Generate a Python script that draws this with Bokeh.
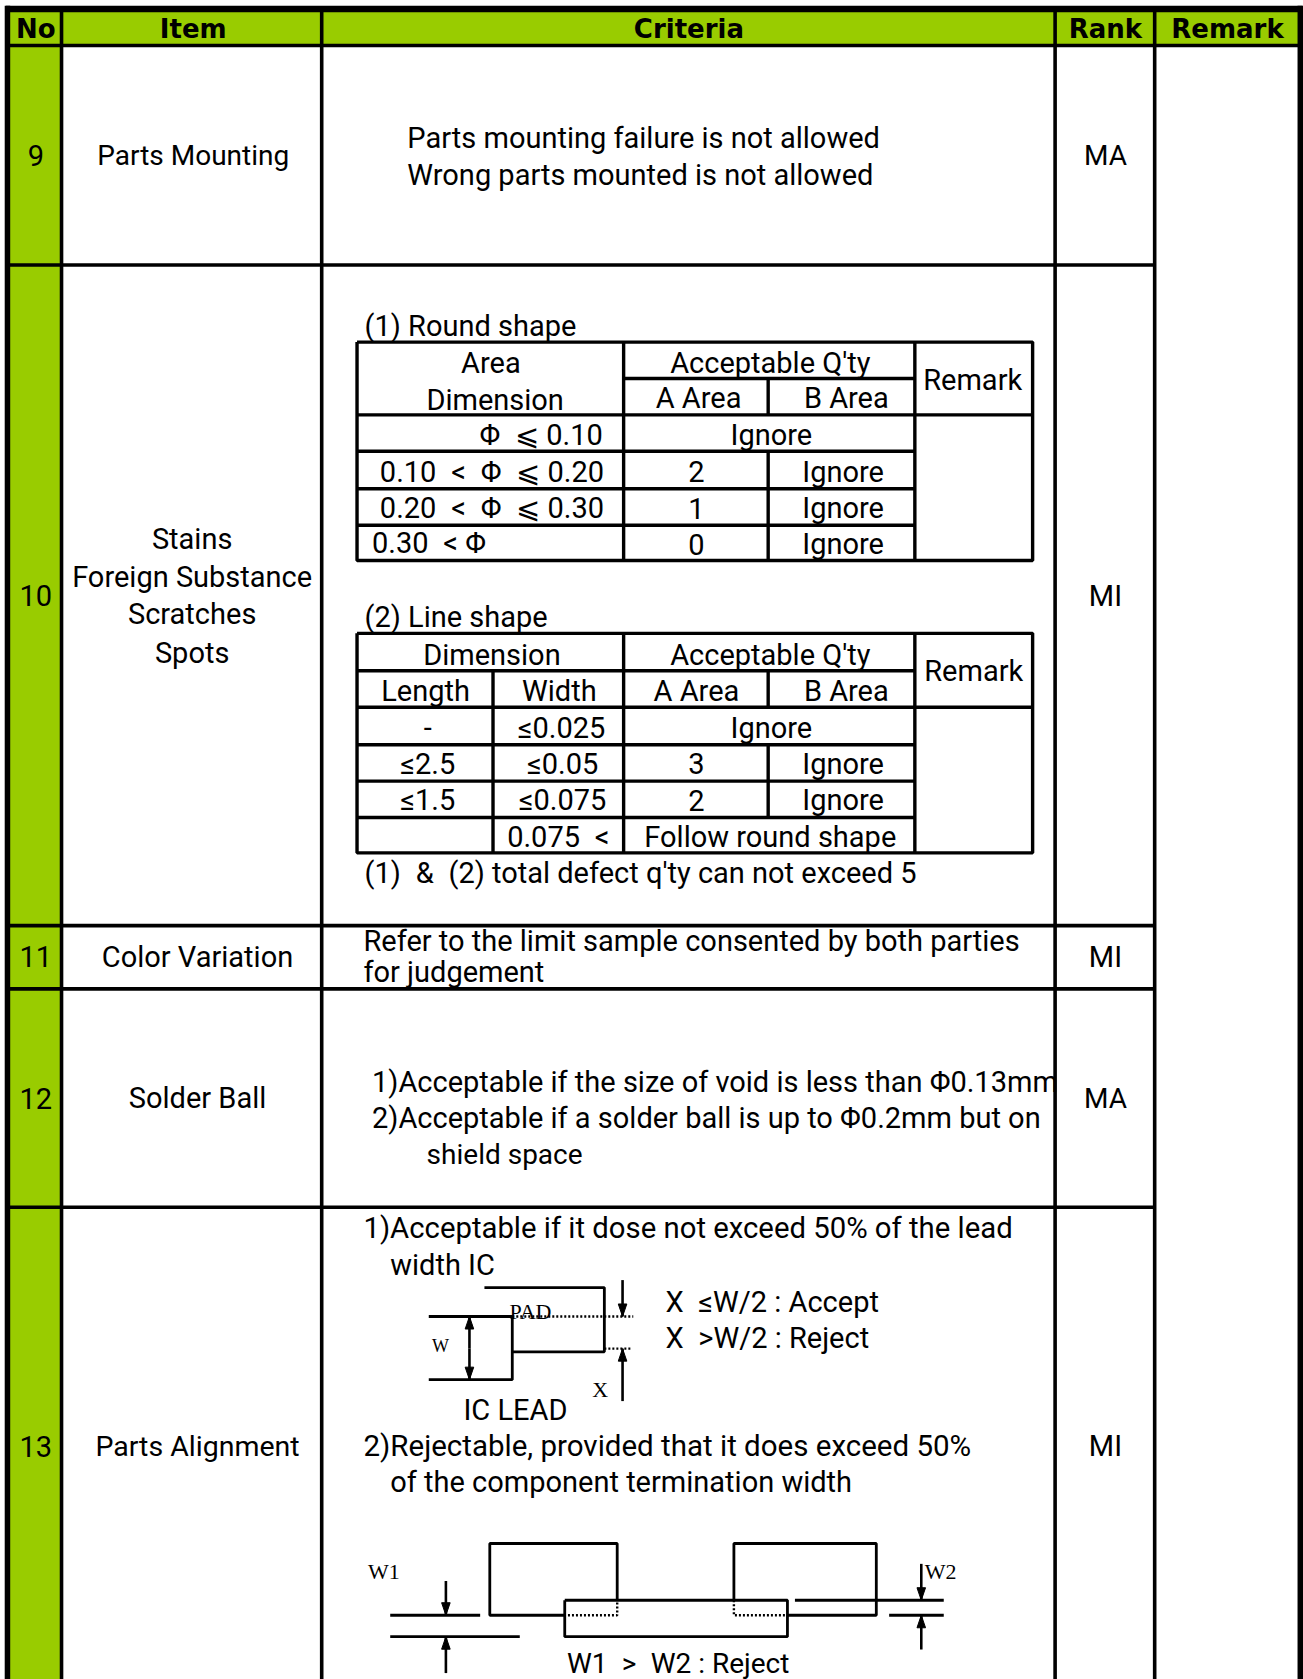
from bokeh.plotting import figure
from bokeh.embed import file_html
from bokeh.resources import INLINE
from bokeh.core.properties import value

# ---- table content ----
HEADERS = ["No", "Item", "Criteria", "Rank", "Remark"]
ROW_NO = ["9", "10", "11", "12", "13"]
ROW_RANK = ["MA", "MI", "MI", "MA", "MI"]
ROW_ITEM = [["Parts Mounting"], ["Stains", "Foreign Substance", "Scratches", "Spots"],
            ["Color Variation"], ["Solder Ball"], ["Parts Alignment"]]

CRIT_9 = ["Parts mounting failure is not allowed", "Wrong parts mounted is not allowed"]
CRIT_10_TITLE1 = "(1) Round shape"
CRIT_10_TITLE2 = "(2) Line shape"
CRIT_10_NOTE = "(1)\u2002&\u2002(2) total defect q'ty can not exceed 5"
CRIT_11 = ["Refer to the limit sample consented by both parties", "for judgement"]
CRIT_12 = ["1)Acceptable if the size of void is less than \u03a60.13mm",
           "2)Acceptable if a solder ball is up to \u03a60.2mm but on", "shield space"]
CRIT_13 = ["1)Acceptable if it dose not exceed 50% of the lead", "width IC",
           "X\u2002\u2264W/2 : Accept", "X\u2002>W/2 : Reject", "IC LEAD",
           "2)Rejectable, provided that it does exceed 50%", "of the component termination width",
           "W1\u2002>\u2002W2 : Reject"]
ROUND_DIMS = ["\u03a6\u2002\u2a7d 0.10", "0.10\u2002<\u2002\u03a6\u2002\u2a7d 0.20",
              "0.20\u2002<\u2002\u03a6\u2002\u2a7d 0.30", "0.30\u2002< \u03a6"]
ROUND_A = ["2", "1", "0"]
LINE_LEN = ["-", "\u22642.5", "\u22641.5"]
LINE_W = ["\u22640.025", "\u22640.05", "\u22640.075", "0.075\u2002<"]
LINE_A = ["3", "2"]

GREEN = "#99CC00"
FONT = "Roboto"
FS = "29px"

# layout grid (in the 1217 x 1568 design space)
COLS = [8, 57, 300, 985, 1078, 1213]
ROWS = [8, 42, 247, 864, 923, 1127]
BOTTOM = 1568
ROW_Y = [145, 556, 893, 1025, 1350]

p = figure(width=1303, height=1679, x_range=(0, 1217), y_range=(1568, 0),
           output_backend="svg", toolbar_location=None, min_border=0,
           background_fill_color="white", border_fill_color="white",
           outline_line_color=None, margin=0)
p.axis.visible = False
p.grid.visible = False


def T(x, y, s, align="center", font=FONT, size=FS, style="normal"):
    p.text([x], [y], text=[s], text_align=align, text_baseline="middle",
           text_font=value(font), text_font_size=value(size), text_font_style=style,
           text_color="#000000")


def L(xs, ys, w=3.4, dash="solid"):
    p.line(xs, ys, line_color="#000000", line_width=w, line_dash=dash)


def arrow(x, y_tail, y_tip, head=True):
    L([x, x], [y_tail, y_tip], 2.6)
    d = 9 if y_tip > y_tail else -9
    p.patch([x - 4, x + 4, x], [y_tip - d * 1.3, y_tip - d * 1.3, y_tip],
            fill_color="#000000", line_color="#000000", line_width=1)


# fills
p.quad(left=[COLS[0]], right=[COLS[5]], top=[ROWS[0]], bottom=[ROWS[1]], fill_color=GREEN, line_color=None)
p.quad(left=[COLS[0]], right=[COLS[1]], top=[ROWS[1]], bottom=[BOTTOM], fill_color=GREEN, line_color=None)

# main grid
L([5, 1216], [8, 8], 6.5)
L([6.5, 6.5], [5, BOTTOM], 5.5)
L([1214, 1214], [5, BOTTOM], 5.5)
for x in COLS[1:5]:
    L([x, x], [8, BOTTOM], 3.6)
L([COLS[0], COLS[5]], [42, 42], 3.6)
for y in ROWS[2:]:
    L([COLS[0], COLS[4]], [y, y], 3.6)

# headers
HX = [33, 180, 643, 1032, 1146]
for x, s in zip(HX, HEADERS):
    T(x, 27, s, font="DejaVu Sans", size="26px", style="bold")

# row labels
for y, n, r in zip(ROW_Y, ROW_NO, ROW_RANK):
    T(33, y, n)
    T(1032, y, r, size="28px" if r == "MA" else FS)
T(180, 145, ROW_ITEM[0][0], size="28px")
for y, s in zip([503, 538, 573, 609], ROW_ITEM[1]):
    T(179, y, s)
T(184, 893, ROW_ITEM[2][0])
T(184, 1025, ROW_ITEM[3][0])
T(184, 1350, ROW_ITEM[4][0], size="28.5px")

# row 9
T(380, 128, CRIT_9[0], "left")
T(380, 163, CRIT_9[1], "left")

# row 10: round shape table
T(340, 304, CRIT_10_TITLE1, "left")
X1 = [333, 582, 717, 854, 964]
Y1 = [319, 353, 387, 421, 456, 490, 523]
L([X1[0], X1[4], X1[4], X1[0], X1[0]], [Y1[0], Y1[0], Y1[6], Y1[6], Y1[0]])
L([X1[1], X1[1]], [Y1[0], Y1[6]])
L([X1[3], X1[3]], [Y1[0], Y1[6]])
L([X1[2], X1[2]], [Y1[1], Y1[2]])
L([X1[2], X1[2]], [Y1[3], Y1[6]])
L([X1[1], X1[3]], [Y1[1], Y1[1]])
L([X1[0], X1[4]], [Y1[2], Y1[2]])
for y in Y1[3:6]:
    L([X1[0], X1[3]], [y, y])
T(458, 339, "Area")
T(462, 373, "Dimension")
T(719, 339, "Acceptable Q'ty")
T(652, 371, "A Area")
T(790, 371, "B Area")
T(908, 354, "Remark")
T(505, 406, ROUND_DIMS[0])
T(720, 406, "Ignore")
T(459, 440, ROUND_DIMS[1])
T(459, 474, ROUND_DIMS[2])
T(347, 507, ROUND_DIMS[3], "left")
for y, a in zip([440, 474, 508], ROUND_A):
    T(650, y, a)
    T(787, y, "Ignore")

# row 10: line shape table
T(340, 576, CRIT_10_TITLE2, "left")
X2 = [333, 460, 582, 717, 854, 964]
Y2 = [591, 626, 660, 695, 729, 763, 796]
L([X2[0], X2[5], X2[5], X2[0], X2[0]], [Y2[0], Y2[0], Y2[6], Y2[6], Y2[0]])
L([X2[1], X2[1]], [Y2[1], Y2[6]])
L([X2[2], X2[2]], [Y2[0], Y2[6]])
L([X2[4], X2[4]], [Y2[0], Y2[6]])
L([X2[3], X2[3]], [Y2[1], Y2[2]])
L([X2[3], X2[3]], [Y2[3], Y2[5]])
L([X2[0], X2[4]], [Y2[1], Y2[1]])
L([X2[0], X2[5]], [Y2[2], Y2[2]])
for y in Y2[3:6]:
    L([X2[0], X2[4]], [y, y])
T(459, 611, "Dimension")
T(719, 611, "Acceptable Q'ty")
T(397, 645, "Length")
T(522, 645, "Width")
T(650, 645, "A Area")
T(790, 645, "B Area")
T(909, 626, "Remark")
for y, s in zip([679, 713, 747], LINE_LEN):
    T(399, y, s)
for y, x, s in zip([679, 713, 747, 781], [524, 525, 525, 521], LINE_W):
    T(x, y, s)
T(720, 679, "Ignore")
for y, a in zip([713, 747], LINE_A):
    T(650, y, a)
    T(787, y, "Ignore")
T(719, 781, "Follow round shape")
T(340, 815, CRIT_10_NOTE, "left")

# row 11
T(339, 878, CRIT_11[0], "left")
T(339, 907, CRIT_11[1], "left")

# row 12
T(347, 1010, CRIT_12[0], "left")
T(347, 1044, CRIT_12[1], "left")
T(398, 1078, CRIT_12[2], "left", size="28px")

# row 13 texts
T(339, 1146, CRIT_13[0], "left", size="29.3px")
T(364, 1181, CRIT_13[1], "left")
T(621, 1215, CRIT_13[2], "left")
T(621, 1249, CRIT_13[3], "left")
T(481, 1316, CRIT_13[4])
T(339, 1350, CRIT_13[5], "left", size="29.5px")
T(364, 1384, CRIT_13[6], "left")
T(529, 1553, CRIT_13[7], "left", size="28px")
SERIF = "Liberation Serif"
T(495, 1224, "PAD", font=SERIF, size="22px")
T(411, 1257, "W", font=SERIF, size="18px")
T(560, 1297, "X", font=SERIF, size="22px")
T(358, 1467, "W1", font=SERIF, size="22px")
T(878, 1467, "W2", font=SERIF, size="22px")

# row 13 sketch 1
L([452, 564, 564, 478], [1202, 1202, 1262, 1262], 2.8)
L([400, 478, 478, 400], [1229, 1229, 1288, 1288], 2.8)
L([478, 591], [1229, 1229], 2.4, "2 2")
L([564, 590], [1259, 1259], 2.4, "2 2")
arrow(581, 1195, 1229)
arrow(581, 1308, 1259)
arrow(438, 1259, 1229)
arrow(438, 1259, 1288)

# row 13 sketch 2
L([576, 576, 457, 457, 527], [1494, 1441, 1441, 1508, 1508], 2.8)
L([685, 685, 818, 818, 735], [1494, 1441, 1441, 1508, 1508], 2.8)
L([527, 735, 735, 527, 527], [1494, 1494, 1528, 1528, 1494], 2.8)
L([530, 576, 576], [1508, 1508, 1494], 2.4, "2 2")
L([685, 685, 735], [1494, 1508, 1508], 2.4, "2 2")
L([364, 448], [1508, 1508], 2.8)
L([364, 485], [1528, 1528], 2.8)
L([742, 881], [1494, 1494], 2.8)
L([830, 881], [1508, 1508], 2.8)
arrow(416, 1476, 1508)
arrow(416, 1562, 1528)
arrow(860, 1460, 1494)
arrow(860, 1540, 1508)

open("out.html", "w").write(file_html(p, INLINE))
